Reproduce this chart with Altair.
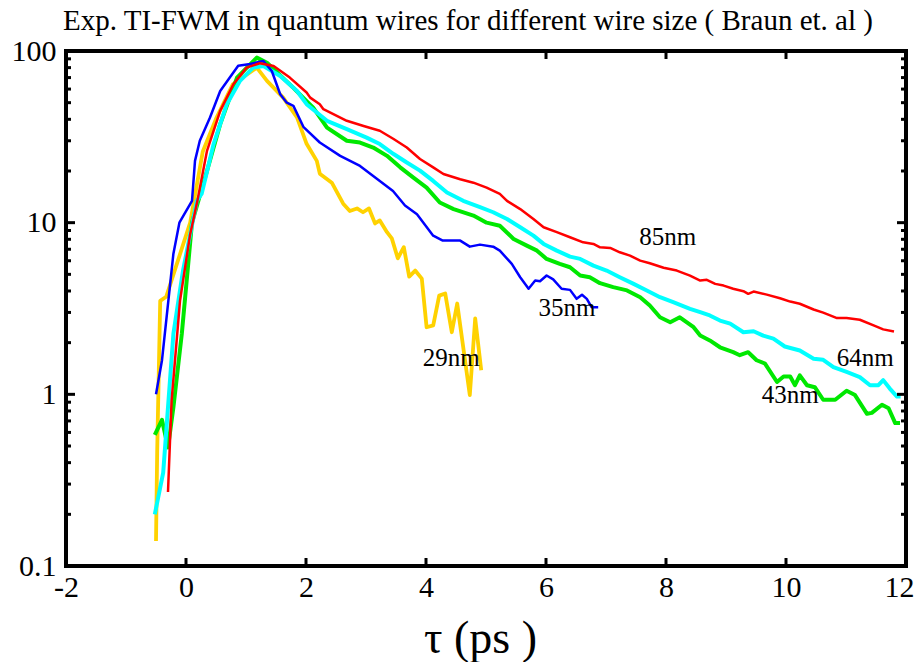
import altair as alt
import pandas as pd

# ---- data ----
x29 = [-0.5, -0.48, -0.43, -0.33, 0.07, 0.28, 0.51, 0.78, 1.18, 1.35, 1.62, 1.85, 2.01, 2.18, 2.23, 2.43, 2.62, 2.73, 2.85, 2.95,
       3.05, 3.15, 3.23, 3.35, 3.43, 3.53, 3.63, 3.72, 3.82, 3.93, 4.01, 4.12, 4.22, 4.32, 4.43, 4.52, 4.73, 4.82, 4.92]
y29 = [0.14, 0.47, 3.5, 3.7, 10, 26, 41, 64, 80, 67, 53.5, 41, 28.8, 22.9, 19.3, 17.1, 12.9, 11.7, 12.1, 11.5,
       12.1, 9.9, 10.3, 8.8, 8.1, 6.2, 7.2, 4.85, 5.26, 4.72, 2.46, 2.52, 3.76, 3.87, 2.3, 3.38, 0.99, 2.77, 1.38]

x35 = [-0.5, -0.4, -0.21, -0.11, 0.1, 0.15, 0.23, 0.4, 0.57, 0.73, 0.87, 1.07, 1.29, 1.43, 1.57, 1.68, 1.79, 1.96, 2.23, 2.57,
       2.9, 3.23, 3.45, 3.65, 3.85, 4.12, 4.28, 4.57, 4.73, 4.9, 5.12, 5.23, 5.43, 5.57, 5.71, 5.82, 5.9, 6.01, 6.12, 6.26,
       6.4, 6.51, 6.6, 6.68, 6.76, 6.87]
y35 = [1.0, 1.58, 6.6, 10, 13.4, 22.9, 30, 41, 58.5, 70, 82, 84, 87.5, 76.5, 56, 50, 47.9, 36, 29.3, 24.5,
       21.4, 17.5, 15.3, 12.6, 11.2, 8.4, 7.86, 7.86, 7.25, 7.45, 7.25, 6.87, 5.75, 4.81, 4.12, 4.6, 4.56, 4.92, 4.67, 4.12,
       4.06, 3.6, 3.8, 3.6, 3.22, 3.22]

x43 = [-0.52, -0.4, -0.3, -0.21, -0.07, 0.1, 0.35, 0.57, 0.85, 1.18, 1.35, 1.79, 2.01, 2.12, 2.35, 2.68, 2.9, 3.12, 3.35, 3.57,
       3.79, 4.01, 4.23, 4.46, 4.79, 5.01, 5.23, 5.46, 5.68, 5.85, 6.01, 6.23, 6.4, 6.57, 6.73, 6.9, 7.12, 7.35, 7.57, 7.73,
       7.9, 8.07, 8.23, 8.46, 8.57, 8.73, 8.9, 9.12, 9.23, 9.37, 9.51, 9.65, 9.85, 9.96, 10.07, 10.15, 10.23, 10.35, 10.48, 10.62,
       10.82, 11.01, 11.15, 11.35, 11.43, 11.6, 11.71, 11.82, 11.9]
y43 = [0.58, 0.71, 0.49, 0.84, 2.25, 10, 20, 37.5, 70, 91.5, 85.5, 61, 51, 46.8, 35.8, 30, 29.3, 27.4, 24.5, 21,
       18.3, 16.0, 13.1, 12.0, 11.0, 10.0, 9.6, 8.04, 7.35, 6.87, 6.15, 5.75, 5.5, 4.92, 4.81, 4.44, 4.21, 4.03, 3.68, 3.29,
       2.81, 2.63, 2.81, 2.46, 2.2, 2.06, 1.88, 1.76, 1.69, 1.76, 1.58, 1.51, 1.18, 1.27, 1.27, 1.13, 1.29, 1.13, 1.1, 0.93,
       0.93, 1.05, 0.99, 0.77, 0.78, 0.87, 0.83, 0.68, 0.68]

x64 = [-0.52, -0.38, -0.21, -0.05, 0.18, 0.26, 0.46, 0.68, 0.9, 1.12, 1.29, 1.57, 1.85, 2.01, 2.35, 2.68, 3.01, 3.23, 3.46, 3.68,
       3.9, 4.12, 4.35, 4.62, 4.9, 5.12, 5.23, 5.35, 5.57, 5.79, 5.96, 6.18, 6.4, 6.57, 6.79, 7.01, 7.23, 7.46, 7.68, 7.9,
       8.12, 8.4, 8.57, 8.73, 8.9, 9.07, 9.29, 9.46, 9.62, 9.79, 9.98, 10.23, 10.46, 10.62, 10.79, 11.01, 11.23, 11.4, 11.54, 11.62,
       11.73, 11.85, 11.91]
y64 = [0.2, 0.35, 2.25, 5.26, 13.4, 14.7, 28.7, 49, 67, 80, 81.8, 71.6, 58.5, 49, 39.2, 35.1, 31.3, 28.7, 25.1, 22.4,
       20.1, 17.5, 15.0, 13.4, 12.3, 11.5, 11.0, 10.5, 9.4, 8.4, 7.52, 6.87, 6.34, 6.15, 5.62, 5.26, 4.81, 4.4, 4.03, 3.68,
       3.44, 3.15, 3.01, 2.88, 2.69, 2.58, 2.3, 2.33, 2.2, 2.11, 1.9, 1.8, 1.61, 1.59, 1.44, 1.35, 1.26, 1.13, 1.13, 1.21,
       1.08, 0.97, 0.97]

x85 = [-0.3, -0.24, -0.1, 0.07, 0.12, 0.19, 0.35, 0.57, 0.79, 1.01, 1.23, 1.46, 1.73, 2.01, 2.07, 2.23, 2.29, 2.68, 2.96, 3.23,
       3.46, 3.68, 3.9, 4.12, 4.29, 4.57, 4.79, 5.01, 5.23, 5.35, 5.57, 5.79, 5.96, 6.18, 6.4, 6.62, 6.79, 6.9, 7.07, 7.23,
       7.4, 7.57, 7.73, 7.96, 8.18, 8.4, 8.57, 8.68, 8.82, 8.96, 9.12, 9.29, 9.37, 9.46, 9.68, 9.9, 10.07, 10.23, 10.46, 10.62,
       10.85, 11.01, 11.23, 11.46, 11.62, 11.8]
y85 = [0.27, 0.92, 3.5, 8.6, 10.3, 13.4, 26.2, 44.8, 64, 80, 84.9, 81.8, 70, 57.3, 53.5, 49, 45.8, 39.2, 36.6, 34.3,
       30.7, 27.4, 23.5, 21, 19.2, 17.9, 17.1, 16.0, 14.7, 13.4, 12.0, 10.5, 9.4, 8.8, 8.22, 7.68, 7.52, 7.18, 7.13, 6.72,
       6.43, 6.01, 5.8, 5.46, 5.26, 4.92, 4.6, 4.65, 4.4, 4.3, 4.12, 3.99, 3.85, 3.97, 3.81, 3.63, 3.47, 3.37, 3.12, 2.99,
       2.78, 2.78, 2.72, 2.52, 2.39, 2.32]

label_text = ["85nm", "35nm", "29nm", "64nm", "43nm"]
label_x = [8.03, 6.35, 4.42, 11.32, 10.07]
label_y = [8.3, 3.2, 1.62, 1.62, 0.99]

x_ticks = [-2, 0, 2, 4, 6, 8, 10, 12]
y_major = [0.1, 1, 10, 100]
y_minor = [m * d for d in (0.1, 1, 10) for m in range(2, 10)]

W, H = 840, 515
FONT = "Liberation Serif"

xs = alt.Scale(domain=[-2, 12], nice=False, zero=False)
ys = alt.Scale(type="log", domain=[0.1, 100], nice=False)

series = [
    ("29nm", x29, y29, "#FFD200", 3.8),
    ("43nm", x43, y43, "#00E800", 4),
    ("64nm", x64, y64, "#00FFFF", 4),
    ("35nm", x35, y35, "#0000FF", 2.5),
    ("85nm", x85, y85, "#FF0000", 2.5),
]

last_tick = "datum.value === 12"
x_axis = alt.Axis(values=x_ticks, tickSize=0, grid=False, domain=False, labelFont=FONT, labelFontSize=30,
                  labelPadding=6, labelExpr="datum.value + ''", labelColor="black", labelFlush=False,
                  labelAlign={"condition": {"test": last_tick, "value": "right"}, "value": "center"},
                  labelOffset={"condition": {"test": last_tick, "value": 8}, "value": 0},
                  title="τ (ps )", titleFont=FONT, titleFontSize=46, titleFontWeight="normal", titleColor="black",
                  titleX=414, titleY=86, titleBaseline="alphabetic", titleAlign="center")
y_axis = alt.Axis(values=y_major, format="~g", tickSize=0, grid=False, domain=False, labelFont=FONT,
                  labelFontSize=30, labelPadding=10, labelColor="black", labelFlush=False, title=None)

X = lambda: alt.X("x:Q", scale=xs, axis=x_axis)
Y = lambda: alt.Y("y:Q", scale=ys, axis=y_axis)

layers = []
for name, xv, yv, col, sw in series:
    df = pd.DataFrame({"x": xv, "y": yv})
    layers.append(alt.Chart(df).mark_line(color=col, strokeWidth=sw, strokeJoin="round").encode(x=X(), y=Y()))

xt = pd.DataFrame({"x": x_ticks})
ymj = pd.DataFrame({"y": y_major})
ymn = pd.DataFrame({"y": y_minor})
rule = dict(color="black", strokeWidth=3)
layers += [
    alt.Chart(xt).mark_rule(**rule).encode(x=X(), y=alt.value(0), y2=alt.value(8)),
    alt.Chart(xt).mark_rule(**rule).encode(x=X(), y=alt.value(H), y2=alt.value(H - 8)),
    alt.Chart(ymj).mark_rule(**rule).encode(y=Y(), x=alt.value(0), x2=alt.value(9)),
    alt.Chart(ymj).mark_rule(**rule).encode(y=Y(), x=alt.value(W), x2=alt.value(W - 9)),
    alt.Chart(ymn).mark_rule(**rule).encode(y=Y(), x=alt.value(0), x2=alt.value(5)),
    alt.Chart(ymn).mark_rule(**rule).encode(y=Y(), x=alt.value(W), x2=alt.value(W - 5)),
]

labels = pd.DataFrame({"x": label_x, "y": label_y, "t": label_text})
layers.append(
    alt.Chart(labels).mark_text(font=FONT, fontSize=25, color="black", align="center", baseline="middle")
    .encode(x=X(), y=Y(), text="t:N")
)

chart = alt.layer(*layers).properties(
    width=W, height=H,
    title=alt.TitleParams("Exp. TI-FWM in quantum wires for different wire size  ( Braun et. al )",
                          font=FONT, fontSize=29, fontWeight="normal", color="black",
                          anchor="start", frame="group", dx=-3, dy=23, offset=0, baseline="alphabetic"),
    autosize=alt.AutoSizeParams(type="none"),
    padding={"left": 58, "top": 43, "right": 8, "bottom": 96},
).configure(background="white", font=FONT).configure_view(stroke="black", strokeWidth=4).configure_axis(
    labelFont=FONT, titleFont=FONT)

chart.save("out.html", embed_options={"renderer": "svg", "actions": False})
